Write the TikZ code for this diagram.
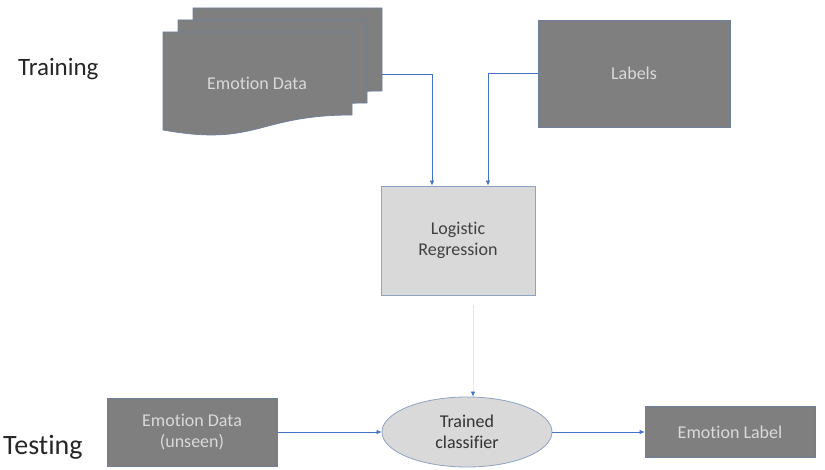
\documentclass[tikz,border=0pt]{standalone}
\usepackage{xcolor}
\usepackage{fontspec}
\setmainfont{Carlito}[Ligatures=NoCommon]
\usepackage{tikz}
\usetikzlibrary{shapes,arrows.meta,positioning,calc}

\definecolor{darkbox}{HTML}{7F7F7F}
\definecolor{boxline}{HTML}{6E7F9C}
\definecolor{boxtext}{HTML}{D9D9D9}
\definecolor{lightbox}{HTML}{D9D9D9}
\definecolor{lightline}{HTML}{8FA2C4}
\definecolor{inktext}{HTML}{404040}
\definecolor{flowblue}{HTML}{4472C4}
\definecolor{faintblue}{HTML}{E3E8F2}

\begin{document}
\begin{tikzpicture}[x=1pt, y=-1pt,
  darkrect/.style={draw=boxline, line width=0.7pt, fill=darkbox, text=boxtext,
    align=center, inner sep=0pt, font=\fontsize{18}{21}\selectfont},
  lightrect/.style={draw=lightline, line width=0.8pt, fill=lightbox, text=inktext,
    align=center, inner sep=0pt, font=\fontsize{18}{21}\selectfont},
  flow/.style={-{Latex[length=5pt, width=4.5pt, color=flowblue]}, flowblue, line width=0.7pt},
  phase/.style={anchor=base west, text=black!85, inner sep=0pt}]

\useasboundingbox (0,0) rectangle (825,470);

% Phase titles
\node[phase, font=\fontsize{25}{30}\selectfont] (train) at (18,76) {Training};
\node[phase, font=\fontsize{28}{33}\selectfont] (test) at (3,454) {Testing};

% Stack of emotion data sheets (back to front)
\foreach \dx/\dy in {30/-24, 15/-12, 0/0}{
  \begin{scope}[shift={(\dx,\dy)}]
    \draw[fill=darkbox, draw=boxline, line width=0.7pt]
      (163,32) -- (352,32) -- (352,115)
      .. controls (257,115) and (257,147) .. (163,130) -- cycle;
  \end{scope}
}
\node[text=boxtext, font=\fontsize{18}{21}\selectfont] (data) at (257,83) {Emotion Data};
\coordinate (dataout) at (382,74);

% Labels and the learner
\node[darkrect, minimum width=192, minimum height=107] (labels) at (634,73.5) {Labels};
\node[lightrect, minimum width=154, minimum height=109] (lr) at (458,240.5) {Logistic\\Regression};

% Testing row
\node[darkrect, minimum width=170, minimum height=68] (unseen) at (192,432) {Emotion Data\\(unseen)};
\node[ellipse, lightrect, text=black!80, minimum width=170, minimum height=70] (clf) at (467,432) {Trained\\classifier};
\node[darkrect, minimum width=170, minimum height=51] (result) at (730,432) {Emotion Label};

% Connectors
\draw[flow] (dataout) -| ([xshift=-26pt]lr.north);
\draw[flow] (labels.west) -| ([xshift=30pt]lr.north);
\draw[flow, draw=faintblue, shorten <=10pt] ([xshift=15pt]lr.south) -- ([xshift=15pt]lr.south |- clf.north);
\draw[flow] (unseen.east) -- (clf.west);
\draw[flow] (clf.east) -- (result.west);

\end{tikzpicture}
\end{document}
